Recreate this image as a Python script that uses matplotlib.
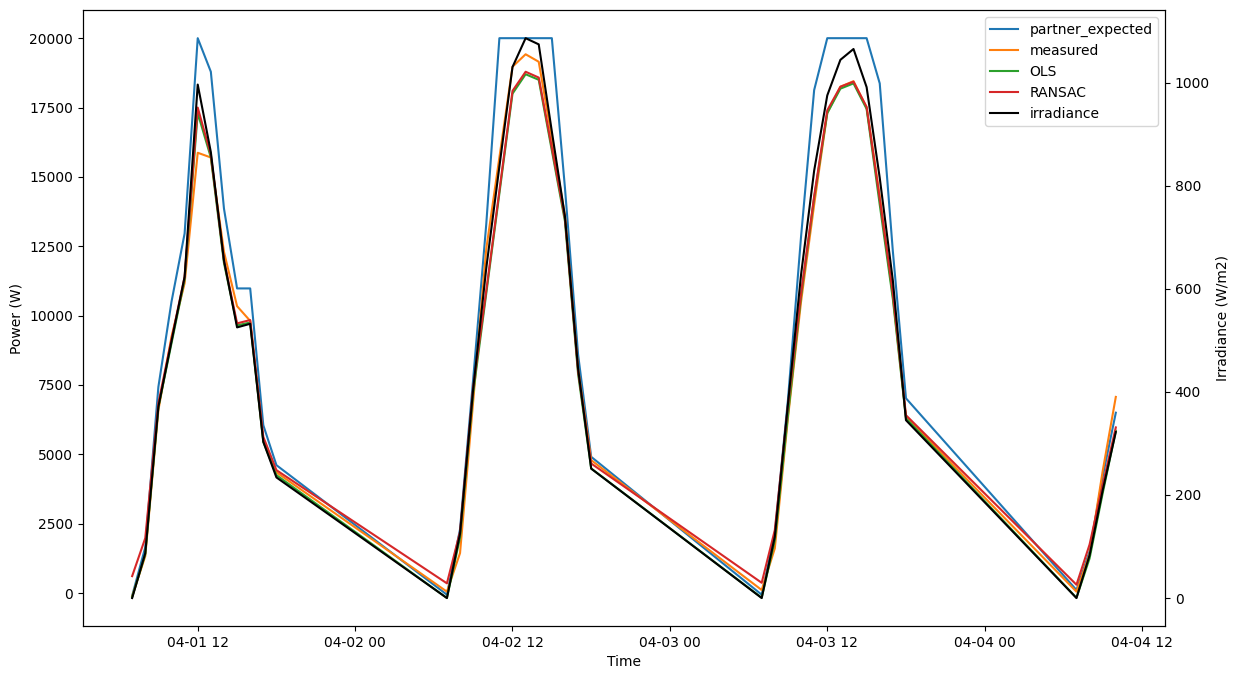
import numpy as np
import pandas as pd
import matplotlib
matplotlib.use("Agg")
import matplotlib.pyplot as plt
import matplotlib.dates as mdates

# ---- Data --------------------------------------------------------------

# sample times: hourly daylight readings on four days
days = ["2024-04-01", "2024-04-02", "2024-04-03", "2024-04-04"]
hours = [
    [7, 8, 9, 10, 11, 12, 13, 14, 15, 16, 17, 18],
    [7, 8, 9, 10, 11, 12, 13, 14, 15, 16, 17, 18],
    [7, 8, 9, 10, 11, 12, 13, 14, 15, 16, 17, 18],
    [7, 8, 9, 10],
]

partner_expected = [
    -100, 1650, 7430, 10500, 12960, 20000, 18790, 13860, 10980, 10980, 6050, 4610,
    -60, 2300, 7700, 13300, 20000, 20000, 20000, 20000, 20000, 14600, 8600, 4910,
    -60, 2150, 6950, 12840, 18130, 20000, 20000, 20000, 20000, 18370, 12320, 7020,
    110, 1500, 4200, 6500,
]
measured = [
    -120, 1330, 6590, 9240, 11170, 15870, 15700, 12300, 10340, 9810, 5500, 4350,
    50, 1440, 6900, 12400, 15700, 18970, 19420, 19150, 16400, 13600, 8100, 4790,
    110, 1610, 6300, 10500, 14000, 17300, 18250, 18450, 17500, 14300, 10700, 6350,
    50, 1400, 4400, 7070,
]
ols = [
    -150, 1400, 6700, 9000, 11300, 17300, 15700, 11900, 9650, 9750, 5450, 4250,
    -180, 2000, 7200, 10800, 14400, 18000, 18700, 18500, 15950, 13400, 7900, 4490,
    -170, 1900, 6400, 10700, 14250, 17300, 18180, 18370, 17450, 14000, 10600, 6300,
    -170, 1250, 3600, 5850,
]
ransac = [
    610, 1980, 6850, 9150, 11400, 17500, 15800, 12000, 9720, 9840, 5630, 4430,
    350, 2210, 7400, 10900, 14500, 18100, 18790, 18580, 16050, 13500, 8000, 4670,
    370, 2270, 6740, 10800, 14300, 17400, 18250, 18430, 17520, 14200, 10800, 6410,
    300, 1750, 3900, 5970,
]
irradiance = [
    0, 87, 371, 498, 623, 996, 865, 655, 525, 532, 303, 234,
    0, 125, 405, 640, 837, 1030, 1086, 1074, 905, 740, 445, 251,
    0, 119, 376, 627, 829, 975, 1044, 1065, 991, 815, 616, 345,
    0, 83, 209, 322,
]

times = pd.DatetimeIndex([
    pd.Timestamp(d) + pd.Timedelta(hours=h)
    for d, hs in zip(days, hours) for h in hs
])

# ---- Plot --------------------------------------------------------------

fig, ax = plt.subplots(figsize=(12.42, 6.79), dpi=100)
fig.subplots_adjust(left=0.0668, right=0.938, top=0.985, bottom=0.078)

l1, = ax.plot(times, partner_expected, color="C0", label="partner_expected")
l2, = ax.plot(times, measured, color="C1", label="measured")
l3, = ax.plot(times, ols, color="C2", label="OLS")
l4, = ax.plot(times, ransac, color="C3", label="RANSAC")
ax.set_ylabel("Power (W)")
ax.set_xlabel("Time")

ax2 = ax.twinx()
l5, = ax2.plot(times, irradiance, color="black", label="irradiance")
ax2.set_ylabel("Irradiance (W/m2)")

ax.xaxis.set_major_locator(mdates.HourLocator(byhour=[0, 12]))
ax.xaxis.set_major_formatter(mdates.DateFormatter("%m-%d %H"))

handles = [l1, l2, l3, l4, l5]
ax2.legend(handles, [h.get_label() for h in handles], loc="upper right")

fig.savefig("out.png", dpi=100)
